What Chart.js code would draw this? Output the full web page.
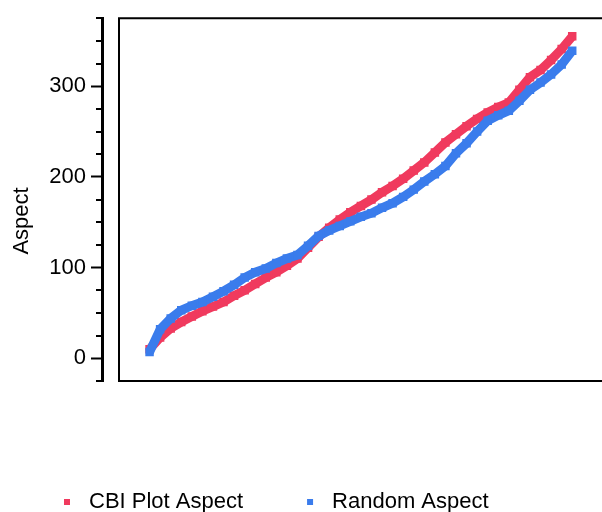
<!DOCTYPE html>
<html>
<head>
<meta charset="utf-8">
<script src="https://cdn.jsdelivr.net/npm/chart.js@4.4.1/dist/chart.umd.min.js"></script>
<style>
  html, body { margin: 0; padding: 0; background: #fff; }
  #wrap { width: 602px; height: 512px; position: relative; }
</style>
</head>
<body>
<div id="wrap"><canvas id="aspect"></canvas></div>
<script>
// sorted aspect values (degrees)
const cbiAspect = [10, 23, 33, 40, 46, 52, 57, 62, 69, 75, 82, 89, 95, 102, 110, 122, 134, 144, 153, 161,
  168, 175, 183, 190, 198, 207, 216, 227, 238, 247, 256, 264, 271, 277, 282, 296, 310, 318, 329, 341, 355];
const randomAspect = [7, 32, 44, 53, 58, 62, 68, 74, 81, 89, 95, 99, 105, 110, 114, 124, 135, 141, 146, 151,
  156, 160, 166, 171, 178, 186, 195, 203, 212, 226, 237, 250, 262, 268, 273, 284, 296, 304, 313, 324, 339];
const ranks = cbiAspect.map((_, i) => i);
const seriesNames = ['CBI Plot Aspect', 'Random Aspect'];
const colours = { cbi: 'rgb(240, 58, 94)', random: 'rgb(58, 124, 236)' };

Chart.defaults.font.family = "'Liberation Sans', Arial, sans-serif";
Chart.defaults.color = '#000';

/** y axis minor ticks and the open frame round the plot */
const frame = {
  id: 'frame',
  afterDraw(chart) {
    const { ctx, chartArea: a, scales: { y } } = chart;
    ctx.save();
    ctx.strokeStyle = '#000';
    ctx.lineWidth = 2;
    y.ticks.forEach(t => {
      if (t.value % 100 === 0) return;
      const py = Math.round(y.getPixelForValue(t.value));
      ctx.beginPath();
      ctx.moveTo(a.left - 6, py);
      ctx.lineTo(a.left, py);
      ctx.stroke();
    });
    const bx = a.left + 17;
    ctx.beginPath();
    ctx.moveTo(chart.width + 2, a.top);
    ctx.lineTo(bx, a.top);
    ctx.lineTo(bx, a.bottom);
    ctx.lineTo(chart.width + 2, a.bottom);
    ctx.stroke();
    ctx.restore();
  }
};

const ctx = document.getElementById('aspect').getContext('2d');
new Chart(ctx, {
  type: 'line',
  data: {
    labels: ranks,
    datasets: [
      {
        label: seriesNames[0],
        data: cbiAspect,
        borderColor: colours.cbi,
        backgroundColor: colours.cbi,
        borderWidth: 9,
        pointStyle: 'rect',
        pointRadius: 6,
        pointBorderWidth: 0,
        order: 1
      },
      {
        label: seriesNames[1],
        data: randomAspect,
        borderColor: colours.random,
        backgroundColor: colours.random,
        borderWidth: 9,
        pointStyle: 'rect',
        pointRadius: 6,
        pointBorderWidth: 0,
        order: 0
      }
    ]
  },
  options: {
    responsive: true,
    maintainAspectRatio: false,
    animation: false,
    layout: { padding: { top: -4, right: 0, bottom: -11, left: 0 } },
    plugins: {
      tooltip: { enabled: false },
      legend: {
        position: 'bottom',
        align: 'start',
        labels: {
          usePointStyle: true,
          pointStyle: 'rect',
          boxWidth: 22,
          boxHeight: 6,
          padding: 56,
          color: '#000',
          font: { size: 22 },
          sort: (a, b) => a.datasetIndex - b.datasetIndex
        }
      }
    },
    scales: {
      x: {
        type: 'linear',
        min: -4.5,
        max: 42.25,
        afterFit(s) { s.height = 54; },
        ticks: { display: false },
        grid: { display: false },
        border: { display: false }
      },
      y: {
        min: -25,
        max: 375,
        afterFit(s) { s.width = 102; },
        border: { display: true, color: '#000', width: 3 },
        grid: {
          drawOnChartArea: false,
          tickLength: 11,
          tickWidth: 2,
          tickColor: c => (c.tick && c.tick.value % 100 === 0) ? '#000' : 'rgba(0,0,0,0)'
        },
        ticks: {
          stepSize: 25,
          autoSkip: false,
          padding: 5,
          color: '#000',
          font: { size: 22 },
          callback: v => v % 100 === 0 ? v : ''
        },
        title: {
          display: true,
          text: 'Aspect       ',
          color: '#000',
          font: { size: 22 },
          padding: { top: 9, bottom: 0 }
        }
      }
    }
  },
  plugins: [frame]
});
</script>
</body>
</html>
